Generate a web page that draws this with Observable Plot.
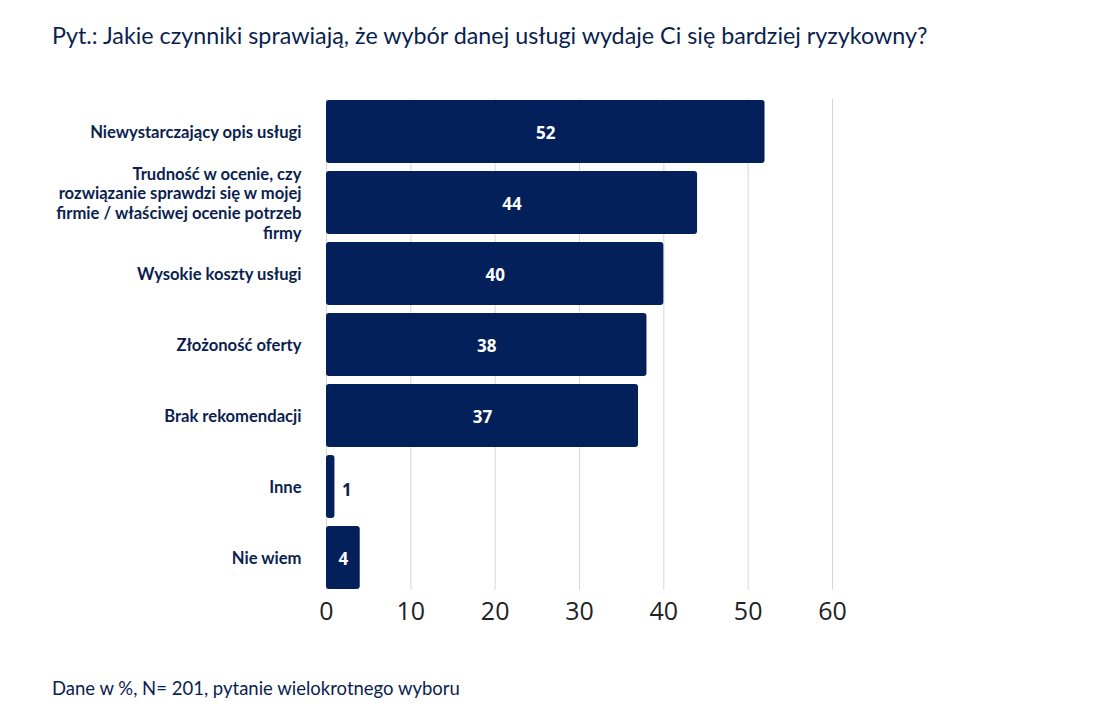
<!DOCTYPE html>
<html><head><meta charset="utf-8">
<script src="https://cdn.jsdelivr.net/npm/d3@7"></script>
<script src="https://cdn.jsdelivr.net/npm/@observablehq/plot@0.6"></script>
<style>
body{margin:0;background:#fff;width:1094px;height:727px;overflow:hidden;font-family:Lato,"Noto Sans",sans-serif;}
#title{height:72px;box-sizing:border-box;padding:24px 0 0 52px;font-size:23.3px;color:#0b1f4f;font-family:Lato,sans-serif;line-height:1;}
#caption{padding:0 0 0 52px;font-size:18.5px;color:#0b1f4f;margin-top:25px;line-height:1;}
</style></head><body>
<div id="title">Pyt.: Jakie czynniki sprawiają, że wybór danej usługi wydaje Ci się bardziej ryzykowny?</div>
<div id="chart"></div>
<div id="caption">Dane w %, N= 201, pytanie wielokrotnego wyboru</div>
<script>
const categories = [
  "Niewystarczający opis usługi",
  "Trudność w ocenie, czy\nrozwiązanie sprawdzi się w mojej\nfirmie / właściwej ocenie potrzeb\nfirmy",
  "Wysokie koszty usługi",
  "Złożoność oferty",
  "Brak rekomendacji",
  "Inne",
  "Nie wiem"
];
const values = [52, 44, 40, 38, 37, 1, 4];
const xTicks = [0, 10, 20, 30, 40, 50, 60];

const data = categories.map((c, i) => ({cat: c, v: values[i]}));
const navy = "#04205a";

const plot = Plot.plot({
  width: 1094,
  height: 582,
  marginLeft: 326,
  marginRight: 262,
  marginTop: 27,
  marginBottom: 64,
  style: {fontFamily: "Lato, sans-serif", background: "#fff"},
  x: {domain: [0, 60], ticks: xTicks},
  y: {domain: categories, paddingInner: 0.115, paddingOuter: 0, label: null},
  marks: [
    Plot.gridX(xTicks, {stroke: "#d6d6d6", strokeOpacity: 1, strokeWidth: 1}),
    Plot.barX(data, {x: "v", y: "cat", fill: navy, rx: 3}),
    Plot.text(data.filter(d => d.v >= 3), {x: d => d.v / 2, y: "cat", text: d => String(d.v), fill: "#fff", fontSize: 17, fontWeight: 700, dy: 2, fontFamily: "'Open Sans', sans-serif"}),
    Plot.text(data.filter(d => d.v < 3), {x: "v", y: "cat", text: d => String(d.v), fill: "#0b1f4f", fontSize: 17, fontWeight: 700, dx: 12, dy: 4, fontFamily: "'Open Sans', sans-serif"}),
    Plot.axisX({ticks: xTicks, tickSize: 0, tickPadding: 12, fontSize: 25, fill: "#222", label: null, fontFamily: "'Open Sans', sans-serif"}),
    Plot.axisY({tickSize: 0, tickPadding: 25, fontSize: 16.6, fontWeight: 700, fill: "#0b1f4f", lineHeight: 1.18, label: null})
  ]
});
document.getElementById("chart").appendChild(plot);
</script>
</body></html>
